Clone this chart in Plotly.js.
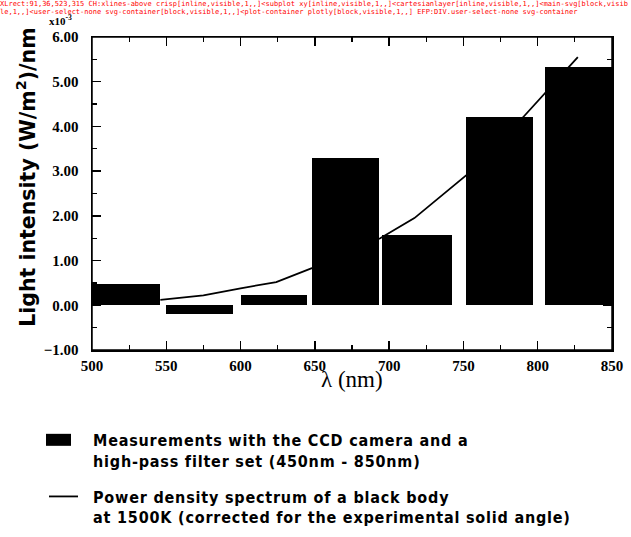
<!DOCTYPE html>
<html>
<head>
<meta charset="utf-8">
<script src="https://cdn.plot.ly/plotly-3.0.1.min.js"></script>
<style>
html,body{margin:0;padding:0;background:#fff;}
#chart{width:631px;height:537px;}
.legendtext{letter-spacing:0.8px;}
#dbg{position:absolute;left:0;top:0;width:631px;font:7px monospace;color:red;word-break:break-all;}
</style>
</head>
<body>
<div id="chart"></div>
<div id="dbg"></div>
<script>
// Measurement bands (nm): start and end of each filter band
const bandStart = [500, 550, 600, 648, 695, 752, 805];
const bandEnd   = [546, 595, 645, 693, 742, 797, 850];
// Measured light intensity (x10^-3 (W/m^2)/nm)
const measured  = [0.47, -0.20, 0.22, 3.30, 1.57, 4.20, 5.33];
// Black body power density spectrum at 1500K
const bbLambda  = [546, 575, 600, 624, 648, 694, 717, 752, 790, 827];
const bbPower   = [0.12, 0.22, 0.38, 0.52, 0.83, 1.50, 1.95, 2.91, 4.20, 5.55];

const xRange = [500, 850];
const yRange = [-1, 6];

const barCenter = bandStart.map((s, i) => (s + bandEnd[i]) / 2);
const barWidth  = bandStart.map((s, i) => bandEnd[i] - s);

const legendFont = {family: '"DejaVu Sans Condensed", "Liberation Sans Narrow", sans-serif', size: 16, weight: 'bold', color: '#000'};
const tickFont = {family: '"Liberation Serif", serif', size: 15, weight: 'bold', color: '#000'};

const traces = [
  {
    type: 'bar',
    x: barCenter, y: measured, width: barWidth,
    marker: {color: '#000', line: {width: 0}},
    name: 'Measurements with the CCD camera and a<br>high-pass filter set (450nm - 850nm)',
    legendgroup: 'a'
  },
  {
    type: 'scatter', mode: 'lines',
    x: bbLambda, y: bbPower,
    line: {color: '#000', width: 1.8},
    name: 'Power density spectrum of a black body<br>at 1500K (corrected for the experimental solid angle)',
    legendgroup: 'b'
  }
];

const axisCommon = {
  showline: true, linecolor: '#000', linewidth: 1.5, mirror: 'ticks',
  ticks: 'inside', tickcolor: '#000', tickwidth: 1.5, ticklen: 9,
  showgrid: false, zeroline: false, tickfont: tickFont
};

const layout = {
  width: 631, height: 537,
  margin: {l: 92, r: 19, t: 37, b: 187, autoexpand: false},
  showlegend: true,
  bargap: 0,
  xaxis: Object.assign({}, axisCommon, {
    range: xRange, dtick: 50, ticklabelstandoff: 1,
    minor: {dtick: 25, ticks: 'inside', ticklen: 5, tickcolor: '#000', tickwidth: 1.2}
  }),
  yaxis: Object.assign({}, axisCommon, {
    range: yRange, dtick: 1, tickformat: '.2f', ticklabelstandoff: 9,
    minor: {dtick: 0.5, ticks: 'inside', ticklen: 5, tickcolor: '#000', tickwidth: 1.2}
  }),
  shapes: [
    {type: 'rect', xref: 'paper', yref: 'paper', x0: 0, x1: 1, y0: 0, y1: 1, layer: 'above',
     line: {color: '#000', width: 1.5}, fillcolor: 'rgba(0,0,0,0)'}
  ],
  legend: {
    x: -0.075, xanchor: 'left', y: -0.233, yanchor: 'top',
    font: legendFont, traceorder: 'grouped', tracegroupgap: 12,
    valign: 'top', itemwidth: 30, bgcolor: 'rgba(0,0,0,0)'
  },
  annotations: [
    {text: 'x10<sup>-3</sup>', xref: 'paper', yref: 'paper', x: -0.035, y: 1.0, xanchor: 'right', yanchor: 'bottom', yshift: 8,
     showarrow: false, font: {family: '"Liberation Serif", serif', size: 11, weight: 'bold', color: '#000'}},
    {text: 'Light intensity (W/m<sup>2</sup>)/nm', xref: 'paper', yref: 'paper', x: -0.125, y: 0.55, xanchor: 'center', yanchor: 'middle',
     textangle: -90, showarrow: false, font: {family: '"DejaVu Sans", sans-serif', size: 20.5, weight: 'bold', color: '#000'}},
    {text: 'λ (nm)', xref: 'paper', yref: 'paper', x: 0.5, y: -0.095, xanchor: 'center', yanchor: 'middle',
     showarrow: false, font: {family: '"Liberation Serif", serif', size: 23, color: '#000'}}
  ]
};

Plotly.newPlot('chart', traces, layout, {displayModeBar: false, staticPlot: true}).then(gd => {
  gd.querySelectorAll('.legend [clip-path]').forEach(el => el.removeAttribute('clip-path'));
  const groups = gd.querySelectorAll('.legend .traces');
  if (groups[0]) groups[0].querySelectorAll('.legendpoints path').forEach(el => el.setAttribute('d', 'M-27,6H-2V-6H-27Z'));
  gd.querySelectorAll('.legend .traces .legendlines path').forEach(el => el.setAttribute('d', 'M-4,0h29'));
  // diagnostics
  const d = document.getElementById('dbg');
  const xl = gd.querySelector('.xlines-above');
  let info = '';
  if (xl) {
    const r = xl.getBoundingClientRect();
    info += 'XLrect:' + [r.x, r.y, r.width, r.height].map(v => v.toFixed(0)).join(',');
    let p = xl, chain = [];
    while (p && p !== gd) { const cs = getComputedStyle(p); chain.push((p.getAttribute('class') || p.tagName) + '[' + cs.display + ',' + cs.visibility + ',' + cs.opacity + ',' + (p.getAttribute('clip-path') || '') + ',' + (p.getAttribute('transform') || '') + ']'); p = p.parentNode; }
    info += ' CH:' + chain.join('<');
  }
  const el = document.elementFromPoint(350, 36);
  info += ' EFP:' + (el ? (el.tagName + '.' + (el.getAttribute('class') || '')) : 'none');
  d.textContent = info;
});
</script>
</body>
</html>
